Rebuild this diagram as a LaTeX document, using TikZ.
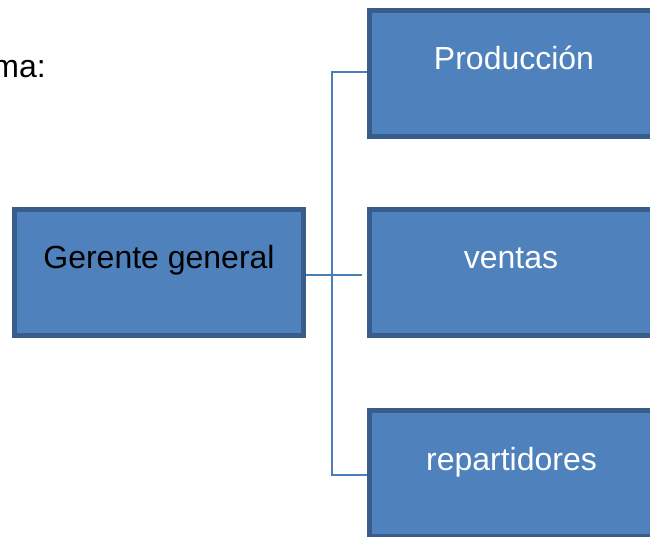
\documentclass[tikz,border=0pt]{standalone}
\usepackage{fontspec}
\setmainfont{Liberation Sans}
\definecolor{boxfill}{HTML}{4F81BD}
\definecolor{boxline}{HTML}{385D8A}
\definecolor{connline}{HTML}{4A7EBB}
\begin{document}
\begin{tikzpicture}[x=1pt,y=-1pt,
  box/.style={draw=boxline, fill=boxfill, line width=5pt, rectangle, inner sep=0pt, minimum width=289pt, minimum height=126pt},
  lab/.style={font=\fontsize{32}{38}\selectfont, anchor=base, inner sep=0pt},
  conn/.style={draw=connline, line width=1.8pt}]
\useasboundingbox (0,0) rectangle (650,536);
% boxes
\node[box] (gg) at (159,272.5) {};
\node[box] (prod) at (513.5,73) {};
\node[box] (ven) at (513.5,272) {};
\node[box] (rep) at (513.5,473.5) {};
% texts
\node[lab, text=black] (ggt) at (gg.center |- 0,268) {Gerente general};
\node[lab, text=white] (prodt) at (514,69) {Producción};
\node[lab, text=white] (vent) at (511,268) {ventas};
\node[lab, text=white] (rept) at (511.5,470) {repartidores};
\node[lab, text=black, anchor=base east] (ma) at (46,77) {ma:};
% connectors
\coordinate (tTop) at (332,72);
\coordinate (tBot) at (332,475);
\coordinate (midEnd) at (362,275);
\draw[conn] (prod.west |- tTop) -- (tTop) -- (tBot) -- (rep.west |- tBot);
\draw[conn] (gg.east |- midEnd) -- (midEnd);
\end{tikzpicture}
\end{document}
